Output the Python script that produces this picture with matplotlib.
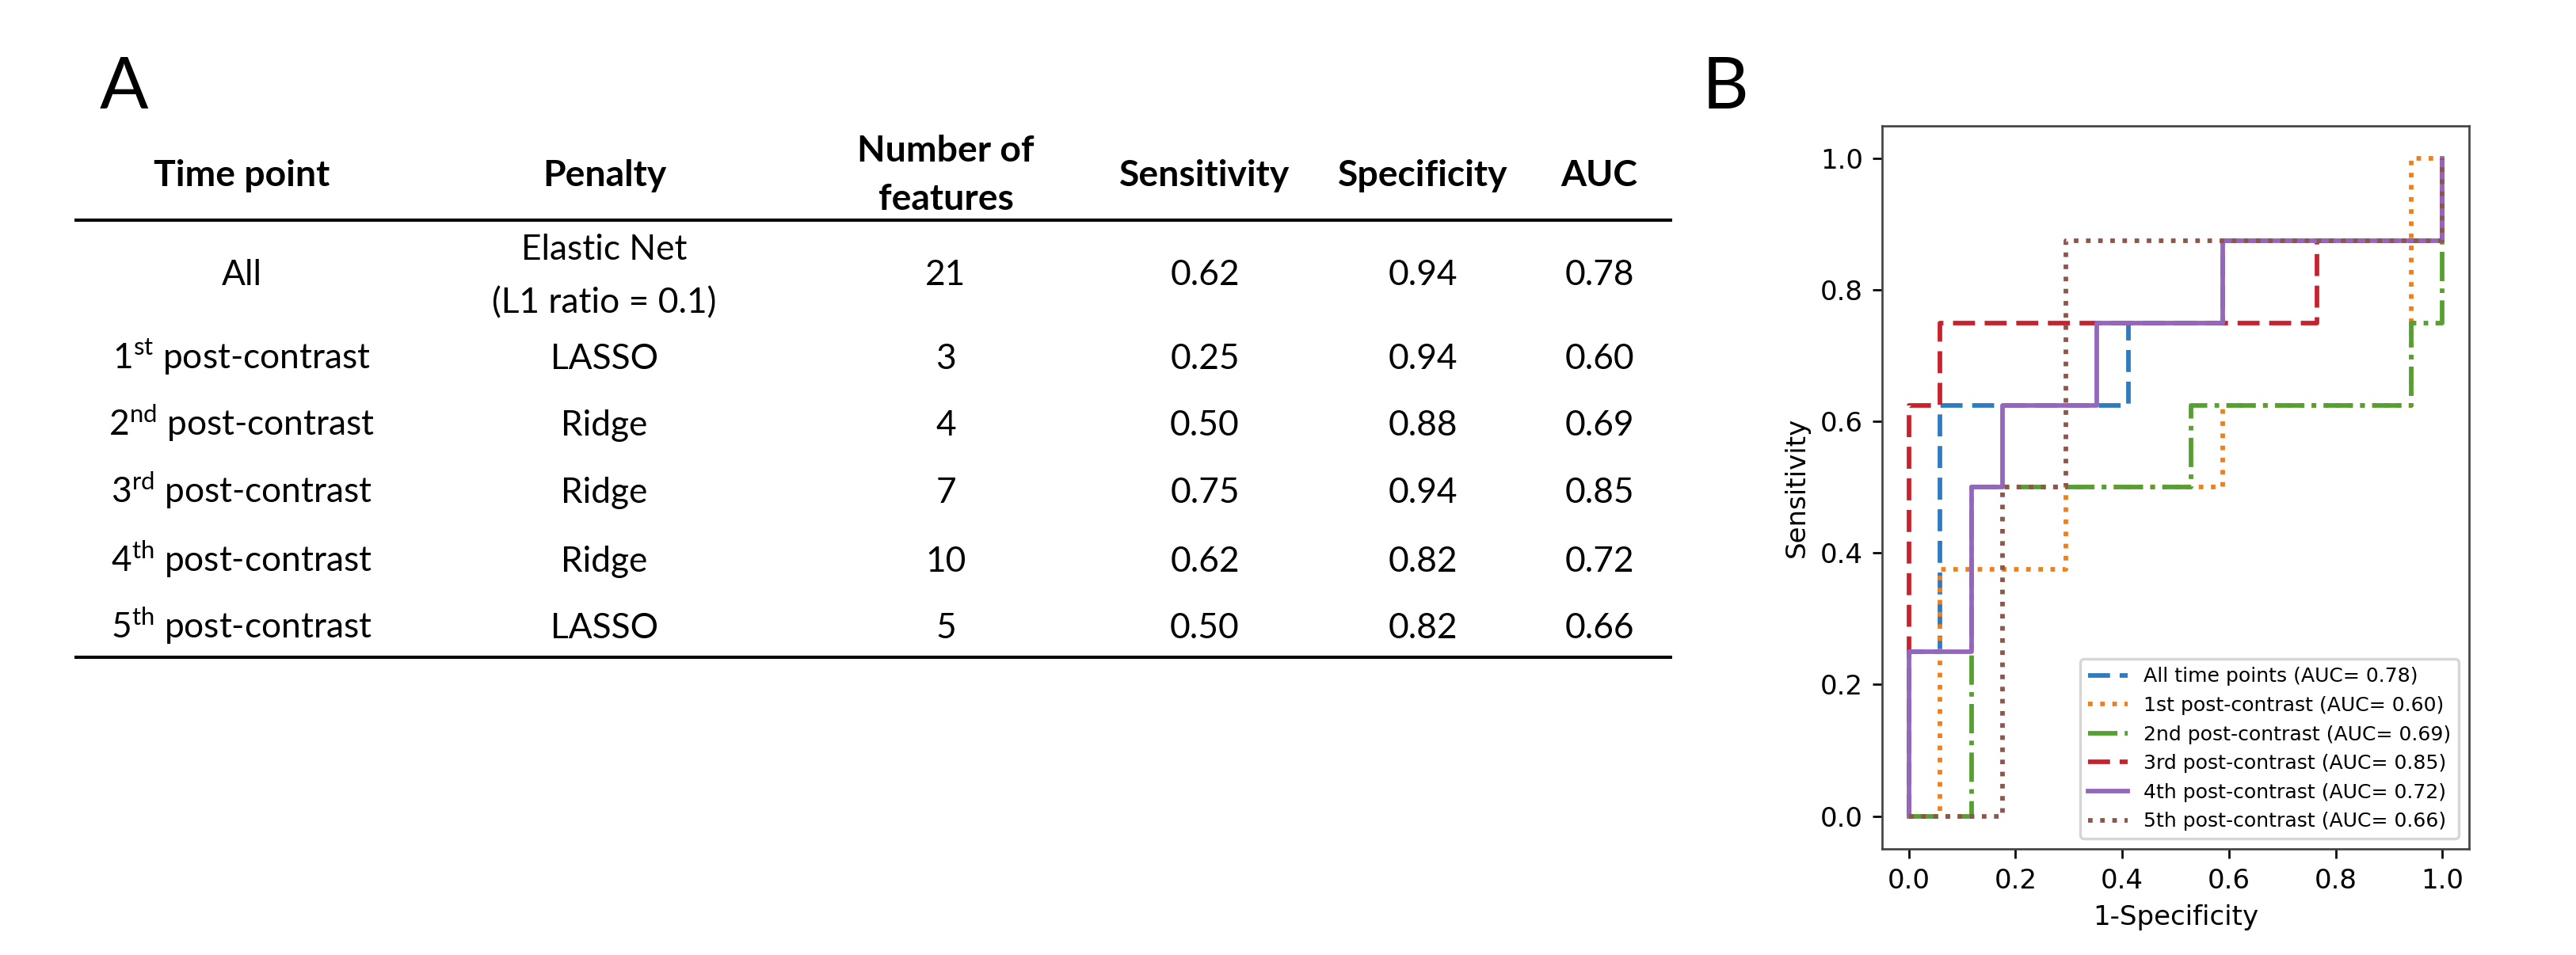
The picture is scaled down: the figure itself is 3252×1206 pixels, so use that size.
import matplotlib.pyplot as plt

# table data (panel A)
time_points = ['All', '1$^{\\mathrm{st}}$ post-contrast', '2$^{\\mathrm{nd}}$ post-contrast',
               '3$^{\\mathrm{rd}}$ post-contrast', '4$^{\\mathrm{th}}$ post-contrast',
               '5$^{\\mathrm{th}}$ post-contrast']
penalties = [('Elastic Net', '(L1 ratio = 0.1)'), 'LASSO', 'Ridge', 'Ridge', 'Ridge', 'LASSO']
n_features = [21, 3, 4, 7, 10, 5]
sensitivity = [0.62, 0.25, 0.50, 0.75, 0.62, 0.50]
specificity = [0.94, 0.94, 0.88, 0.94, 0.82, 0.82]
auc = [0.78, 0.60, 0.69, 0.85, 0.72, 0.66]

# ROC curves (panel B)
roc_names = ['All time points', '1st post-contrast', '2nd post-contrast',
             '3rd post-contrast', '4th post-contrast', '5th post-contrast']
fpr_all = [0, 0, 0.059, 0.059, 0.412, 0.412, 0.588, 0.588, 1, 1]
tpr_all = [0, 0.25, 0.25, 0.625, 0.625, 0.75, 0.75, 0.875, 0.875, 1]
fpr_1 = [0, 0.059, 0.059, 0.294, 0.294, 0.588, 0.588, 0.941, 0.941, 1]
tpr_1 = [0, 0, 0.375, 0.375, 0.5, 0.5, 0.625, 0.625, 1, 1]
fpr_2 = [0, 0.118, 0.118, 0.529, 0.529, 0.941, 0.941, 1, 1]
tpr_2 = [0, 0, 0.5, 0.5, 0.625, 0.625, 0.75, 0.75, 1]
fpr_3 = [0, 0, 0.059, 0.059, 0.765, 0.765, 1, 1]
tpr_3 = [0, 0.625, 0.625, 0.75, 0.75, 0.875, 0.875, 1]
fpr_4 = [0, 0, 0.118, 0.118, 0.176, 0.176, 0.353, 0.353, 0.588, 0.588, 1, 1]
tpr_4 = [0, 0.25, 0.25, 0.5, 0.5, 0.625, 0.625, 0.75, 0.75, 0.875, 0.875, 1]
fpr_5 = [0, 0.176, 0.176, 0.294, 0.294, 1, 1]
tpr_5 = [0, 0, 0.5, 0.5, 0.875, 0.875, 1]

colors = ['#2f7bbd', '#f07f1a', '#55a030', '#c8232c', '#9467bd', '#8c564b']

plt.rcParams['mathtext.fontset'] = 'custom'
plt.rcParams['mathtext.rm'] = 'Lato'
plt.rcParams['mathtext.bf'] = 'Lato:bold'

DPI = 245
fig = plt.figure(figsize=(3252 / DPI, 1206 / DPI), dpi=DPI)

# panel A : the table, drawn in pixel coordinates
tab = fig.add_axes([0, 0, 1, 1])
tab.set_xlim(0, 3252)
tab.set_ylim(1206, 0)
tab.axis('off')

fs = 13.0
fs_hdr = 13.6
col_x = [305, 763, 1194, 1521, 1796, 2019]
row_y = [360, 466, 550, 635, 722, 806]

tab.text(126, 137, 'A', fontsize=26.7, family='Lato', ha='left', va='baseline')
tab.text(2149, 137, 'B', fontsize=26.7, family='Lato', ha='left', va='baseline')

hdr = dict(fontsize=fs_hdr, family='Lato', weight='bold', ha='center', va='baseline')
tab.text(col_x[0], 235, 'Time point', **hdr)
tab.text(col_x[1], 235, 'Penalty', **hdr)
tab.text(col_x[2], 204, 'Number of', **hdr)
tab.text(col_x[2], 265, 'features', **hdr)
tab.text(col_x[3], 235, 'Sensitivity', **hdr)
tab.text(col_x[4], 235, 'Specificity', **hdr)
tab.text(col_x[5], 235, 'AUC', **hdr)

tab.plot([94, 2111], [278, 278], color='black', lw=1.2, solid_capstyle='butt')
tab.plot([94, 2111], [830, 830], color='black', lw=1.2, solid_capstyle='butt')

cell = dict(fontsize=fs, family='Lato', ha='center', va='baseline')
for i in range(len(time_points)):
    y = row_y[i]
    tab.text(col_x[0], y, time_points[i], **cell)
    if isinstance(penalties[i], tuple):
        tab.text(col_x[1], 328, penalties[i][0], **cell)
        tab.text(col_x[1], 395, penalties[i][1], **cell)
    else:
        tab.text(col_x[1], y, penalties[i], **cell)
    tab.text(col_x[2], y, str(n_features[i]), **cell)
    tab.text(col_x[3], y, '%.2f' % sensitivity[i], **cell)
    tab.text(col_x[4], y, '%.2f' % specificity[i], **cell)
    tab.text(col_x[5], y, '%.2f' % auc[i], **cell)

# panel B : ROC curves
ax = fig.add_axes([0.7306, 0.1111, 0.2279, 0.7571])
dashed = (0, (4.8, 2.1))
curves = [(fpr_all, tpr_all, dashed), (fpr_1, tpr_1, ':'), (fpr_2, tpr_2, '-.'),
          (fpr_3, tpr_3, dashed), (fpr_4, tpr_4, '-'), (fpr_5, tpr_5, ':')]
for k, (fx, ty, ls) in enumerate(curves):
    ax.plot(fx, ty, linestyle=ls, color=colors[k], lw=1.7,
            label='%s (AUC= %0.2f)' % (roc_names[k], auc[k]))
for s in ax.spines.values():
    s.set_color('#444444')
ax.set_xlabel('1-Specificity')
ax.set_ylabel('Sensitivity')
ax.legend(loc='lower right', fontsize=7.4)

fig.savefig('out.png', dpi=DPI)
